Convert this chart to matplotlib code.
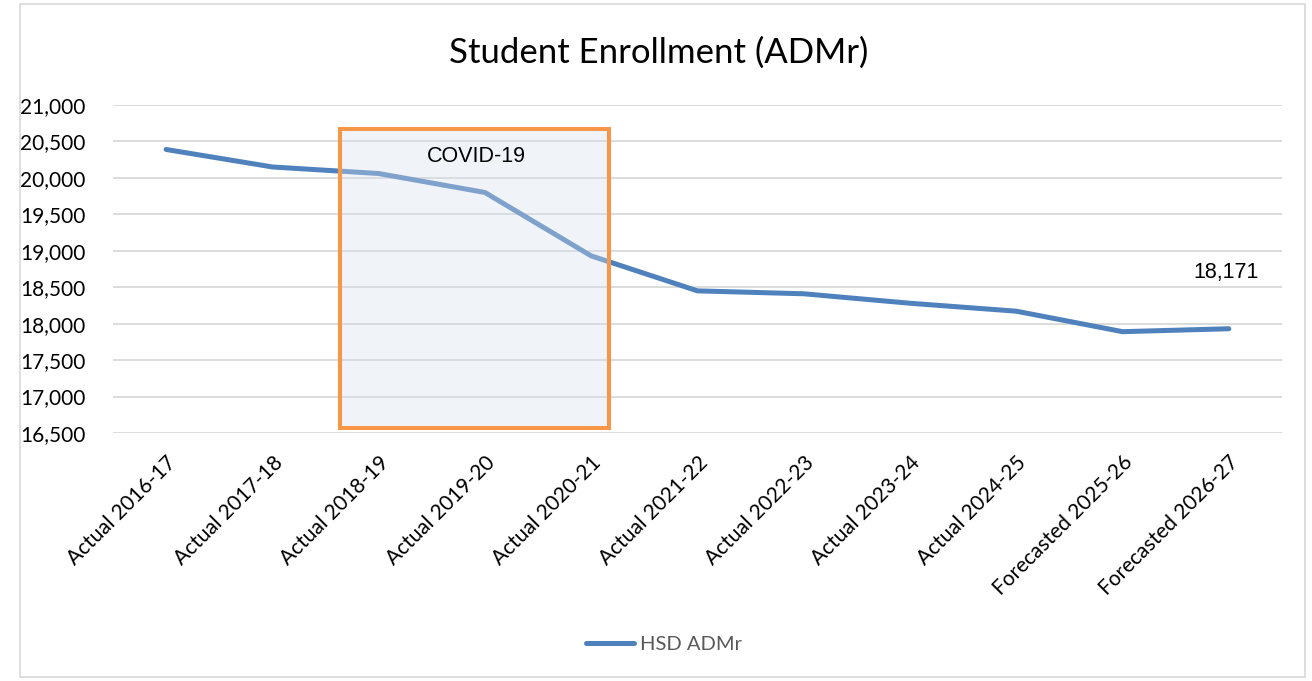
import matplotlib.pyplot as plt
from matplotlib.patches import Rectangle
from matplotlib.ticker import FuncFormatter

# Dados de matrícula (ADMr)
anos = ['Actual 2016-17', 'Actual 2017-18', 'Actual 2018-19', 'Actual 2019-20',
        'Actual 2020-21', 'Actual 2021-22', 'Actual 2022-23', 'Actual 2023-24',
        'Actual 2024-25', 'Forecasted 2025-26', 'Forecasted 2026-27']
admr = [20390, 20150, 20060, 19800, 18930, 18450, 18410, 18280, 18171, 17890, 17930]
rotulo_final = '18,171'

fonte = ['Lato', 'DejaVu Sans']

fig = plt.figure(figsize=(13.12, 6.81), dpi=100)
ax = fig.add_axes([0.0861, 0.3642, 0.8910, 0.4816])

x = list(range(len(anos)))
ax.plot(x, admr, color='#4F81BD', linewidth=3.6, solid_capstyle='round',
        label='HSD ADMr', zorder=3)

# Caixa COVID-19
ax.add_patch(Rectangle((1.64, 16570), 2.53, 4100, facecolor='#D6DEEC', alpha=0.36,
                       edgecolor='none', zorder=4))
ax.add_patch(Rectangle((1.64, 16570), 2.53, 4100, facecolor='none',
                       edgecolor='#F79646', linewidth=2.9, zorder=5))
ax.text(2.92, 20290, 'COVID-19', ha='center', va='center', fontsize=15.5,
        family='Liberation Sans', zorder=6)

ax.text(x[-1] - 0.03, 18700, rotulo_final, ha='center', va='center', fontsize=15.5,
        family='Liberation Sans')

ax.set_xlim(-0.5, len(anos) - 0.5)
ax.set_ylim(16500, 21000)
ax.set_yticks(range(16500, 21001, 500))
ax.yaxis.set_major_formatter(FuncFormatter(lambda v, p: f'{int(v):,}'))
ax.grid(axis='y', color='#D9D9D9', linewidth=1.3)
ax.set_axisbelow(True)
for s in ax.spines.values():
    s.set_visible(False)
ax.tick_params(axis='both', length=0, labelsize=15, colors='#000000')
ax.tick_params(axis='y', pad=20)
ax.tick_params(axis='x', pad=14)
ax.set_xticks(x)
ax.set_xticklabels(anos, rotation=45, ha='right', rotation_mode='anchor')
for t in ax.get_xticklabels() + ax.get_yticklabels():
    t.set_family(fonte)

fig.text(0.502, 0.923, 'Student Enrollment (ADMr)', ha='center', va='center',
         fontsize=25, family=fonte)

leg = fig.legend(loc='center', bbox_to_anchor=(0.506, 0.053), frameon=False,
                 prop={'family': fonte, 'size': 14.5}, handlelength=2.4, handletextpad=0.3)
for t in leg.get_texts():
    t.set_color('#595959')

# Borda da área do gráfico
fig.add_artist(Rectangle((0.015, 0.006), 0.98, 0.988, transform=fig.transFigure,
                         facecolor='none', edgecolor='#D9D9D9', linewidth=1.2))

plt.savefig('out.png', dpi=100)
